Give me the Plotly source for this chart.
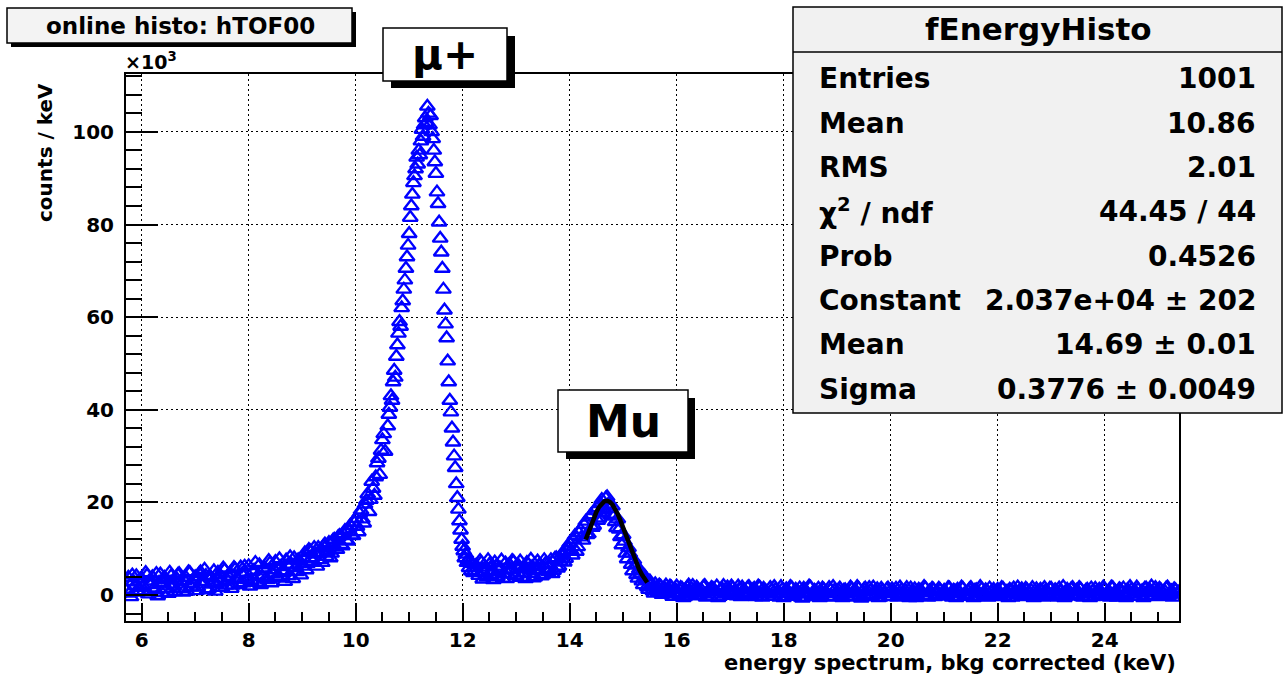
import plotly.graph_objects as go

# ---------------- data (counts / keV in units of 10^3) ----------------
# low-energy rising side, 5.70 .. 10.55 keV, 0.05 keV steps
seg_a_start, seg_a_step = 5.70, 0.05
seg_a_counts = [
    1.2, 3.8, -0.4, 2.9, 4.1, 1.6,
    3.5, 0.9, 4.3, 2.2, 3.9, 1.1, -0.2, 4.5, 2.6, 3.3, 0.3, 4.1, 1.9, 3.6, 4.6, 1.4, 3.1, 0.8, 4.8, 2.5,
    3.9, 1.7, 5.0, 2.9, 4.2, 1.3, 3.6, 5.2, 2.4, 4.4, 1.6, 5.4, 3.2, 4.7, 2.1, 5.6, 3.4, 6.0, 2.6, 4.9,
    6.3, 3.1, 5.3, 2.7, 6.5, 4.0, 5.8, 3.3, 6.9, 4.5, 7.2, 3.6, 6.1, 4.8, 7.5, 4.1, 6.6, 8.0, 5.0, 7.3,
    6.2, 9.1, 6.8, 9.5, 7.2, 8.8, 10.2, 7.6, 10.6, 8.3, 11.3, 9.0, 12.0, 9.8, 12.8, 10.6, 13.9, 11.6, 15.0, 12.8,
    16.5, 13.6, 18.3, 15.5, 20.4, 18.0, 24.5, 21.5, 28.5, 26.0, 33.5, 31.0,
]
# same region, interleaved bins 5.725 .. 10.525 keV
seg_a2_start, seg_a2_step = 5.725, 0.05
seg_a2_counts = [
    2.8, 0.4, 4.3, 2.0, 0.6, 3.4,
    2.0, 4.8, 0.2, 3.0, 1.5, 4.6, 2.7, 0.5, 3.8, 1.3, 4.9, 2.3, 0.7, 4.4, 2.9, 0.6, 3.8, 5.0, 1.7, 3.4,
    0.9, 4.6, 2.3, 5.5, 1.1, 4.0, 2.8, 0.8, 4.9, 3.0, 5.8, 2.1, 4.0, 1.4, 5.9, 3.6, 2.2, 4.5, 6.2, 3.3,
    1.9, 5.0, 7.0, 4.2, 2.2, 5.6, 3.6, 7.4, 2.6, 5.4, 3.9, 7.8, 5.2, 2.9, 6.4, 8.2, 3.5, 5.9, 7.6, 4.3,
    7.8, 5.4, 9.8, 8.0, 10.2, 6.2, 9.1, 7.0, 11.0, 9.4, 8.0, 11.8, 10.3, 12.6, 10.9, 13.2, 11.8, 14.2, 12.9, 15.6,
    14.8, 17.6, 16.4, 19.6, 21.8, 20.6, 23.0, 25.5, 29.5, 31.2, 34.8,
]
# mu+ peak, 10.60 .. 12.20 keV, 0.02 keV steps
seg_b_start, seg_b_step = 10.60, 0.02
seg_b_counts = [
    36.5, 39.0, 40.5, 43.0, 42.0, 46.0, 48.5, 47.0, 51.5, 54.0, 56.5, 59.0, 58.0, 62.0, 63.5, 66.0, 68.0, 70.5, 73.0, 75.5, 78.0,
    81.5, 84.0, 86.5, 89.0, 90.5, 92.0, 94.5, 93.0, 96.0, 95.0, 98.0, 100.5, 99.0, 101.5, 103.0, 102.0, 105.5, 104.0, 101.5, 103.5,
    100.0, 98.5, 96.0, 93.5, 91.0, 87.0, 84.5, 80.5, 77.0, 74.0, 70.5, 66.0, 61.5, 58.5, 55.5, 50.5, 46.0, 42.0, 39.5, 36.0,
    33.0, 30.0, 27.5, 24.0, 21.0, 18.5, 16.0, 14.0, 12.0, 10.5, 9.5, 8.0, 8.8, 7.0, 7.6, 5.9, 7.2, 5.2, 6.8, 4.8,
]
# valley, Mu peak and tail, 12.25 .. 25.35 keV, 0.05 keV steps
seg_c_start, seg_c_step = 12.25, 0.05
seg_c_counts = [
    6.4, 4.2, 7.0, 4.8, 3.9, 6.6, 5.1, 7.1, 4.0, 5.8, 3.6, 6.9, 4.5, 5.5, 7.2,
    4.1, 6.3, 3.8, 5.9, 7.0, 4.6, 6.1, 3.9, 7.3, 5.2, 4.4, 6.8, 5.0, 7.6, 5.3, 8.0, 6.2, 8.6, 7.1, 9.6,
    11.2, 8.6, 12.8, 10.4, 14.1, 11.8, 15.9, 13.2, 17.3, 15.0, 18.8, 16.6, 20.6, 18.3, 21.2, 18.7, 19.2, 15.8, 16.4, 12.6,
    13.0, 9.0, 10.2, 6.6, 7.6, 4.4, 5.6, 3.0, 4.1, 1.8, 3.0, 1.0, 2.4, 0.6, 1.9, 0.3, 2.1, 0.8, 1.7, 0.2,
    1.9, 0.1, 1.4, -0.4, 1.7, 0.6, 2.0, -0.2, 1.2, 0.4, 1.8, -0.5, 1.0, 1.6, 0.2, 1.9, -0.3, 1.3, 0.5, 1.7,
    -0.1, 1.5, 0.7, 1.9, -0.4, 1.1, 0.3, 1.8, -0.2, 1.4, 0.6, 1.7, -0.5, 1.0, 0.2, 1.6, -0.3, 1.2, 0.8, 1.8,
    -0.6, 1.3, 0.4, 1.6, -0.2, 0.9, 1.5, -0.7, 1.1, 0.2, 1.7, -0.4, 0.8, 1.4, -0.1, 1.2, 0.5, 1.6, -0.5, 1.0,
    0.3, 1.5, -0.6, 1.1, 0.6, 1.7, -0.3, 0.9, 1.4, -0.7, 1.2, 0.1, 1.6, -0.2, 0.8, 1.3, -0.5, 1.0, 0.4, 1.5,
    -0.4, 0.9, 1.4, -0.1, 1.1, 0.2, 1.6, -0.6, 0.8, 1.3, -0.3, 1.0, 0.5, 1.5, -0.5, 0.7, 1.2, 0.0, 1.4, -0.2,
    1.0, 0.3, 1.5, -0.5, 0.9, 1.2, -0.3, 1.4, 0.1, 0.8, 1.6, -0.6, 1.1, 0.4, 1.3, -0.2, 0.9, 1.5, -0.4, 0.6,
    1.2, -0.1, 1.4, 0.5, -0.6, 1.0, 1.5, 0.0, 0.8, 1.3, -0.4, 1.1, 0.3, 1.6, -0.2, 0.7, 1.2, -0.5, 1.0, 0.4,
    1.4, -0.3, 0.9, 1.5, 0.1, -0.6, 1.2, 0.6, 1.6, -0.2, 0.8, 1.3, -0.5, 1.0, 0.2, 1.5, -0.4, 0.7, 1.2, 0.0,
    1.3, 0.4, -0.5, 1.6, 0.8, -0.1, 1.1, 1.5, -0.6, 0.6, 1.2, 0.2, 1.7, -0.3, 0.9, 1.4, -0.2, 1.0, 0.5, 1.6,
    -0.4, 1.1, 0.3, 1.5, -0.1, 0.9, 1.3, 0.2,
]
# same region, interleaved bins 12.275 .. 25.375 keV
seg_c2_start, seg_c2_step = 12.275, 0.05
seg_c2_counts = [
    5.0, 7.4, 3.4, 6.0, 7.6, 4.4, 3.3, 6.2, 5.3, 7.5, 4.6, 3.5, 6.6, 7.4, 4.2,
    5.6, 7.3, 4.7, 3.5, 6.6, 7.7, 3.7, 5.5, 6.4, 4.1, 7.6, 5.4, 6.5, 4.6, 7.9, 5.8, 7.3, 9.2, 7.9, 10.4,
    9.6, 12.0, 9.4, 13.4, 12.5, 15.2, 13.0, 16.8, 14.6, 18.2, 16.1, 19.7, 17.8, 20.9, 19.6, 17.4, 17.0, 14.5, 14.2, 10.8,
    11.6, 7.8, 9.0, 5.2, 6.4, 3.6, 4.6, 2.2, 3.3, 1.2, 2.2, 0.4, 1.4, 2.1, 0.1, 1.5, 0.5, 1.9, -0.3, 1.2,
    0.5, 1.6, -0.6, 1.0, 2.1, 0.3, 1.1, 1.7, -0.1, 0.9, 2.0, 0.6, -0.3, 1.4, 0.8, -0.6, 1.1, 2.0, 0.2, 1.0,
    1.9, 0.4, -0.2, 1.3, 1.7, 0.0, 1.6, 0.5, 1.1, -0.4, 1.9, 0.2, 1.4, 0.7, -0.3, 1.0, 1.8, 0.3, -0.5, 1.2,
    0.9, -0.3, 1.8, 0.1, 1.2, 0.6, -0.5, 1.4, 0.4, 1.9, -0.2, 1.0, 0.3, -0.6, 1.5, 0.6, -0.4, 1.1, 1.8, 0.2,
    1.1, -0.2, 1.0, 0.2, -0.5, 1.3, 0.5, 1.8, -0.1, 0.7, 1.5, -0.4, 0.9, 1.7, 0.0, -0.6, 1.4, 0.3, 1.2, -0.3,
    1.3, 0.3, -0.5, 1.7, 0.4, 1.0, -0.2, 1.5, 0.1, -0.6, 1.2, 0.6, 1.8, -0.1, 0.9, 1.4, -0.4, 0.6, 1.1, 0.2,
    -0.2, 1.6, 0.4, 1.0, -0.6, 0.5, 1.7, 0.2, -0.1, 1.3, 0.7, 1.0, -0.4, 1.8, 0.1, 1.1, -0.5, 0.6, 1.2, 0.0,
    0.3, 1.6, -0.3, 0.8, 1.2, -0.5, 0.6, 1.7, 0.2, -0.2, 1.4, 0.5, 1.0, -0.6, 1.3, 0.1, 0.9, 1.6, -0.1, 1.4,
    0.2, 1.1, -0.5, 0.7, 1.8, 0.4, -0.2, 1.3, 0.0, 1.0, 1.6, -0.4, 0.5, 1.2, -0.6, 0.8, 1.4, 0.1, -0.3, 1.7,
    -0.2, 0.9, 1.7, 0.1, -0.5, 1.3, 0.5, 0.0, 1.1, 1.8, -0.3, 0.7, 1.2, 0.4, -0.6, 1.5, 0.6, 1.9, -0.1, 0.8,
    1.4, -0.3, 0.8, 1.7, 0.4, -0.5, 1.1, 0.6,
]
# Gaussian fit curve over the Mu peak (as drawn)
fit_energy = [14.30, 14.35, 14.40, 14.45, 14.50, 14.55, 14.60, 14.65, 14.70, 14.75, 14.80, 14.85,
              14.90, 14.95, 15.00, 15.05, 15.10, 15.15, 15.20, 15.25, 15.30, 15.35, 15.40, 15.45]
fit_counts = [11.96, 13.59, 15.17, 16.65, 17.94, 19.02, 19.80, 20.26, 20.37, 20.11, 19.52, 18.62,
              17.45, 16.07, 14.54, 12.93, 11.30, 9.70, 8.18, 6.78, 5.52, 4.42, 3.48, 2.69]

x_tick_values = [6, 8, 10, 12, 14, 16, 18, 20, 22, 24]
y_tick_values = [0, 20, 40, 60, 80, 100]

stats_labels = ["Entries", "Mean", "RMS", "χ<sup>2</sup> / ndf", "Prob", "Constant", "Mean", "Sigma"]
stats_values = ["1001", "10.86", "2.01", "44.45 / 44", "0.4526", "2.037e+04 ± 202", "14.69 ± 0.01", "0.3776 ± 0.0049"]

# ---------------- assemble ----------------
energy, counts = [], []
for start, step, vals in [(seg_a_start, seg_a_step, seg_a_counts),
                          (seg_a2_start, seg_a2_step, seg_a2_counts),
                          (seg_b_start, seg_b_step, seg_b_counts),
                          (seg_c_start, seg_c_step, seg_c_counts),
                          (seg_c2_start, seg_c2_step, seg_c2_counts)]:
    for i, v in enumerate(vals):
        energy.append(round(start + i * step, 4))
        counts.append(v)

W, H = 1283, 678
ML, MR, MT, MB = 126, 104, 74, 57
PW, PH = W - ML - MR, H - MT - MB


def px(xp):
    return (xp - ML) / PW


def py(yp):
    return (H - MB - yp) / PH


FONT = "DejaVu Sans"
shapes, annotations = [], []


def rect(x0, y0, x1, y1, fill, lw=0.0):
    shapes.append(dict(type="rect", xref="paper", yref="paper",
                       x0=px(x0), x1=px(x1), y0=py(y1), y1=py(y0),
                       fillcolor=fill, line=dict(width=lw, color="black"), layer="above"))


def text(x, y, s, size, xanchor="center", yanchor="middle", angle=0, weight="bold"):
    annotations.append(dict(xref="paper", yref="paper", x=px(x), y=py(y), text=s,
                            showarrow=False, xanchor=xanchor, yanchor=yanchor, textangle=angle,
                            font=dict(family=FONT, size=size, color="black", weight=weight)))


# title box
rect(11, 12, 356, 47, "black")
rect(7, 8, 352, 43, "#f3f3f3", 1.5)
text(180, 26, "online histo: hTOF00", 23)

# mu+ label box
rect(391, 36, 515, 88, "black")
rect(383, 28, 507, 81, "white", 1.5)
text(445, 54, "μ+", 42)

# Mu label box
rect(566, 398, 695, 459, "black")
rect(558, 390, 688, 452, "white", 1.5)
text(623, 421, "Mu", 44)

# stats box
rect(793, 7, 1282, 413, "#f1f1f1", 1.5)
shapes.append(dict(type="line", xref="paper", yref="paper", x0=px(793), x1=px(1282),
                   y0=py(52), y1=py(52), line=dict(width=1.5, color="black"), layer="above"))
text(1038, 29, "fEnergyHisto", 31)
for k, (lab, val) in enumerate(zip(stats_labels, stats_values)):
    yy = 79 + 44.3 * k
    text(817, yy, lab, 28, xanchor="left")
    text(1258, yy, val, 28, xanchor="right")

# axis titles and exponent
text(45, 153, "counts / keV", 20, angle=-90)
text(1178, 663, "energy spectrum, bkg corrected (keV)", 21, xanchor="right")
text(123, 61, "×10<sup>3</sup>", 19, xanchor="left")

fig = go.Figure()
fig.add_trace(go.Scatter(
    x=energy, y=counts, mode="markers",
    marker=dict(symbol="triangle-up-open", size=13, color="#0000ff", line=dict(width=2.4, color="#0000ff")),
    showlegend=False, hoverinfo="x+y"))
fig.add_trace(go.Scatter(
    x=fit_energy, y=fit_counts, mode="lines",
    line=dict(color="black", width=4.5), showlegend=False))

axis_common = dict(
    ticks="inside", tickwidth=2, tickcolor="black",
    showline=True, linewidth=2, linecolor="black", mirror=True,
    showgrid=True, gridcolor="black", gridwidth=1, griddash="2px,3px",
    zeroline=False,
    tickfont=dict(family=FONT, size=20, color="black", weight="bold"),
)

fig.update_layout(
    width=W, height=H, autosize=False,
    margin=dict(l=ML, r=MR, t=MT, b=MB, pad=0),
    paper_bgcolor="white", plot_bgcolor="white",
    xaxis=dict(range=[5.707, 25.39], tickmode="array", tickvals=x_tick_values,
               ticktext=[str(v) for v in x_tick_values], ticklen=18,
               minor=dict(dtick=0.5, tick0=0, ticks="inside", ticklen=9, tickwidth=1.5,
                          tickcolor="black", showgrid=False),
               ticklabelstandoff=0, **axis_common),
    yaxis=dict(range=[-5.6, 112.5], tickmode="array", tickvals=y_tick_values,
               ticktext=[str(v) for v in y_tick_values], ticklen=32,
               minor=dict(dtick=4, tick0=0, ticks="inside", ticklen=16, tickwidth=1.5,
                          tickcolor="black", showgrid=False),
               ticklabelstandoff=6, **axis_common),
    shapes=shapes, annotations=annotations,
)

fig.write_html("out.html", config={"displayModeBar": False},
               post_script="document.body.style.margin='0';document.body.style.overflow='hidden';")
